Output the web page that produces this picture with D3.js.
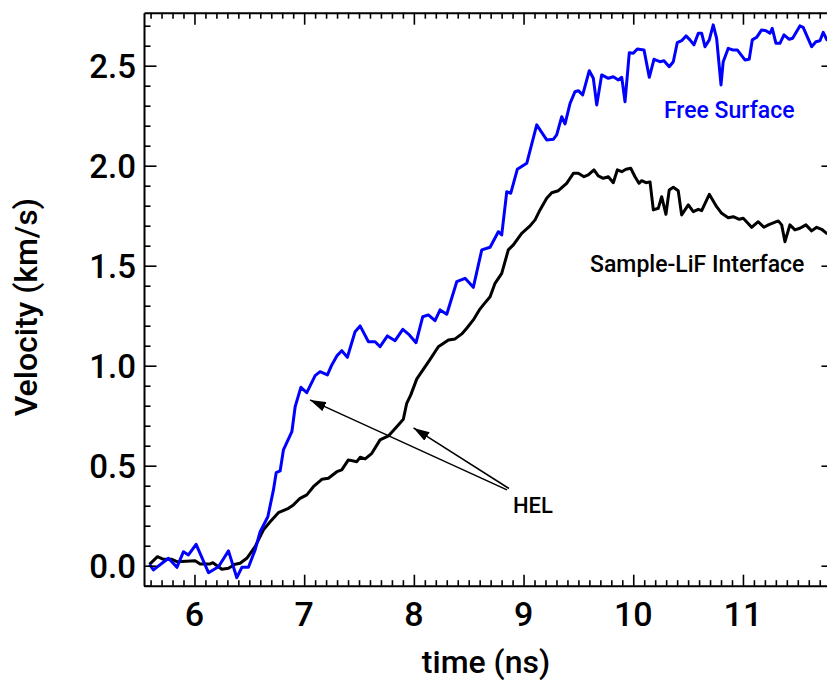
<!DOCTYPE html>
<html>
<head>
<meta charset="utf-8">
<script src="https://cdn.jsdelivr.net/npm/d3@7"></script>
<style>
  html, body { margin: 0; padding: 0; background: #fff; }
  svg { display: block; }
  text { font-family: Roboto, "Liberation Sans", Arial, sans-serif; font-weight: 500; }
</style>
</head>
<body>
<svg id="chart" width="827" height="681"></svg>
<script>
// ---- Data ----
const freeTime = [5.590,5.626,5.763,5.840,5.900,5.945,6.015,6.128,6.219,6.310,6.386,6.432,6.492,6.553,6.599,6.669,6.720,6.745,6.781,6.811,6.888,6.918,6.970,7.024,7.100,7.145,7.212,7.252,7.298,7.343,7.394,7.464,7.510,7.586,7.647,7.692,7.759,7.829,7.899,7.959,8.020,8.081,8.132,8.193,8.239,8.300,8.391,8.467,8.542,8.619,8.695,8.770,8.801,8.847,8.883,8.943,9.029,9.120,9.211,9.271,9.302,9.348,9.378,9.424,9.469,9.499,9.539,9.599,9.636,9.667,9.712,9.773,9.818,9.864,9.895,9.925,9.964,10.000,10.037,10.098,10.146,10.189,10.244,10.280,10.328,10.365,10.401,10.441,10.481,10.517,10.553,10.593,10.624,10.654,10.693,10.729,10.760,10.800,10.820,10.866,10.906,10.948,11.018,11.057,11.085,11.125,11.170,11.210,11.246,11.267,11.301,11.337,11.374,11.422,11.453,11.519,11.549,11.626,11.665,11.702,11.732,11.765,11.800];
const freeVel = [0.007,-0.021,0.037,-0.008,0.070,0.054,0.107,-0.035,-0.005,0.074,-0.060,-0.008,-0.008,0.079,0.170,0.245,0.379,0.465,0.474,0.579,0.670,0.795,0.892,0.865,0.950,0.970,0.954,1.004,1.049,1.075,1.042,1.170,1.199,1.120,1.120,1.095,1.149,1.125,1.182,1.154,1.115,1.245,1.254,1.225,1.279,1.257,1.420,1.437,1.392,1.579,1.592,1.670,1.654,1.870,1.862,1.982,2.012,2.204,2.129,2.132,2.154,2.245,2.209,2.312,2.370,2.375,2.354,2.475,2.437,2.304,2.454,2.437,2.445,2.429,2.442,2.320,2.565,2.562,2.584,2.579,2.442,2.532,2.520,2.525,2.495,2.520,2.615,2.625,2.649,2.629,2.604,2.662,2.662,2.595,2.629,2.704,2.637,2.404,2.520,2.587,2.579,2.579,2.529,2.532,2.629,2.642,2.679,2.675,2.662,2.687,2.612,2.612,2.654,2.632,2.637,2.699,2.692,2.595,2.620,2.625,2.667,2.629,2.620];

const lifTime = [5.590,5.663,5.718,5.794,5.840,6.006,6.052,6.143,6.168,6.250,6.310,6.371,6.416,6.477,6.553,6.629,6.690,6.765,6.857,6.902,6.963,7.024,7.084,7.161,7.221,7.298,7.343,7.403,7.480,7.510,7.556,7.617,7.692,7.768,7.844,7.904,7.935,7.972,8.027,8.072,8.148,8.223,8.315,8.376,8.437,8.482,8.542,8.597,8.633,8.695,8.740,8.801,8.861,8.907,8.983,9.059,9.105,9.150,9.211,9.257,9.317,9.393,9.454,9.499,9.551,9.590,9.642,9.681,9.727,9.773,9.818,9.855,9.895,9.934,9.977,10.016,10.052,10.077,10.116,10.153,10.183,10.228,10.259,10.298,10.328,10.365,10.410,10.441,10.502,10.547,10.593,10.624,10.693,10.760,10.806,10.866,10.912,10.966,11.003,11.079,11.139,11.191,11.231,11.322,11.353,11.383,11.428,11.474,11.519,11.574,11.626,11.672,11.717,11.763,11.800];
const lifVel = [0.007,0.045,0.032,0.032,0.020,0.025,0.009,0.009,0.015,-0.018,-0.013,0.007,0.012,0.037,0.095,0.179,0.220,0.265,0.287,0.304,0.337,0.354,0.395,0.432,0.437,0.470,0.479,0.529,0.520,0.542,0.534,0.562,0.629,0.649,0.695,0.732,0.812,0.854,0.934,0.970,1.032,1.095,1.129,1.134,1.159,1.187,1.229,1.279,1.304,1.345,1.412,1.462,1.579,1.604,1.662,1.699,1.729,1.779,1.837,1.865,1.875,1.912,1.962,1.962,1.945,1.954,1.979,1.949,1.937,1.945,1.915,1.979,1.970,1.982,1.987,1.945,1.912,1.925,1.915,1.919,1.779,1.787,1.845,1.757,1.879,1.892,1.875,1.754,1.804,1.770,1.782,1.775,1.857,1.795,1.762,1.740,1.745,1.732,1.737,1.692,1.720,1.692,1.704,1.724,1.704,1.620,1.704,1.679,1.687,1.704,1.674,1.692,1.682,1.662,1.655];

const xTickValues = [6, 7, 8, 9, 10, 11];
const yTickValues = [0.0, 0.5, 1.0, 1.5, 2.0, 2.5];
const xDomain = [5.54, 11.83];
const yDomain = [-0.1, 2.765];

const seriesNames = ["Free Surface", "Sample-LiF Interface"];
const seriesColors = ["#0000ff", "#000000"];
const seriesLabelPos = [[10.28, 2.2385], [9.606, 1.4685]];

const helLabel = "HEL";
const helLabelPos = [8.904, 0.2635];
const helArrowTails = [[8.849, 0.379], [8.867, 0.386]];
const helArrowTips = [[7.053, 0.829], [7.997, 0.689]];

const xTitle = "time (ns)";
const yTitle = "Velocity (km/s)";

// ---- Layout ----
const svg = d3.select("#chart");
const L = 144, R = 834, T = 12.7, B = 585.7;

const x = d3.scaleLinear().domain(xDomain).range([L, R]);
const y = d3.scaleLinear().domain(yDomain).range([B, T]);

const minorX = d3.range(55, 119).map(d => d / 10).filter(d => d >= xDomain[0] && d <= xDomain[1]);
const minorY = d3.range(-1, 28).map(d => d / 10).filter(d => d >= yDomain[0] && d <= yDomain[1]);
const isMajor = v => Math.abs(v * 2 - Math.round(v * 2)) < 1e-6;
const isInt = v => Math.abs(v - Math.round(v)) < 1e-6;

// arrow marker
svg.append("defs").append("marker")
  .attr("id", "arrow")
  .attr("viewBox", "0 0 16 10")
  .attr("refX", 16).attr("refY", 5)
  .attr("markerWidth", 16).attr("markerHeight", 10)
  .attr("markerUnits", "userSpaceOnUse")
  .attr("orient", "auto")
  .append("path").attr("d", "M0,0 L16,5 L0,10 Z").attr("fill", "#000");

// ---- Lines ----
const line = d3.line().x(d => x(d[0])).y(d => y(d[1]));
svg.append("clipPath").attr("id", "clip")
  .append("rect").attr("x", L).attr("y", T).attr("width", R - L).attr("height", B - T);

const gLines = svg.append("g").attr("clip-path", "url(#clip)");
gLines.append("path")
  .datum(lifTime.map((t, i) => [t, lifVel[i]]))
  .attr("d", line).attr("fill", "none").attr("stroke", seriesColors[1])
  .attr("stroke-width", 3).attr("stroke-linejoin", "round");
gLines.append("path")
  .datum(freeTime.map((t, i) => [t, freeVel[i]]))
  .attr("d", line).attr("fill", "none").attr("stroke", seriesColors[0])
  .attr("stroke-width", 3).attr("stroke-linejoin", "round");

// ---- Axes ----
const gB = svg.append("g").attr("transform", `translate(0,${B})`)
  .call(d3.axisBottom(x).tickValues(minorX).tickSize(0).tickFormat(""));
gB.selectAll(".tick line").attr("y2", d => isInt(d) ? -11 : -5.5);

const gT = svg.append("g").attr("transform", `translate(0,${T})`)
  .call(d3.axisTop(x).tickValues(minorX).tickSize(0).tickFormat(""));
gT.selectAll(".tick line").attr("y2", d => isInt(d) ? 12 : 6);

const gL = svg.append("g").attr("transform", `translate(${L},0)`)
  .call(d3.axisLeft(y).tickValues(minorY).tickSize(0).tickFormat(""));
gL.selectAll(".tick line").attr("x2", d => isMajor(d) ? 12.5 : 6.5);

const gR = svg.append("g").attr("transform", `translate(${R},0)`)
  .call(d3.axisRight(y).tickValues(minorY).tickSize(0).tickFormat(""));
gR.selectAll(".tick line").attr("x2", d => isMajor(d) ? -12.5 : -6.5);

[gB, gT, gL, gR].forEach(g => {
  g.select(".domain").attr("stroke", "#000").attr("stroke-width", 2);
  g.selectAll(".tick line").attr("stroke", "#000").attr("stroke-width", 1.6);
});

// tick labels
svg.append("g").selectAll("text").data(xTickValues).join("text")
  .attr("x", d => x(d)).attr("y", 625.5)
  .attr("text-anchor", "middle").attr("font-size", 34).attr("fill", "#000")
  .text(d => d3.format("d")(d));

svg.append("g").selectAll("text").data(yTickValues).join("text")
  .attr("x", L - 8).attr("y", d => y(d)).attr("dy", "0.36em")
  .attr("text-anchor", "end").attr("font-size", 33).attr("fill", "#000")
  .text(d => d3.format(".1f")(d));

// axis titles
svg.append("text").attr("x", 486).attr("y", 673)
  .attr("text-anchor", "middle").attr("font-size", 32).attr("fill", "#000")
  .text(xTitle);
svg.append("text")
  .attr("transform", `translate(37,${(T + B) / 2 + 8}) rotate(-90)`)
  .attr("text-anchor", "middle").attr("font-size", 32).attr("fill", "#000")
  .text(yTitle);

// series labels
svg.append("g").selectAll("text").data(seriesNames).join("text")
  .attr("x", (d, i) => x(seriesLabelPos[i][0]))
  .attr("y", (d, i) => y(seriesLabelPos[i][1]))
  .attr("font-size", 23).attr("fill", (d, i) => seriesColors[i])
  .text(d => d);

// HEL annotation
svg.append("text").attr("x", x(helLabelPos[0])).attr("y", y(helLabelPos[1]))
  .attr("font-size", 22).attr("fill", "#000").text(helLabel);
svg.append("g").selectAll("line").data(helArrowTips).join("line")
  .attr("x1", (d, i) => x(helArrowTails[i][0])).attr("y1", (d, i) => y(helArrowTails[i][1]))
  .attr("x2", d => x(d[0])).attr("y2", d => y(d[1]))
  .attr("stroke", "#000").attr("stroke-width", 1.5)
  .attr("marker-end", "url(#arrow)");
</script>
</body>
</html>
